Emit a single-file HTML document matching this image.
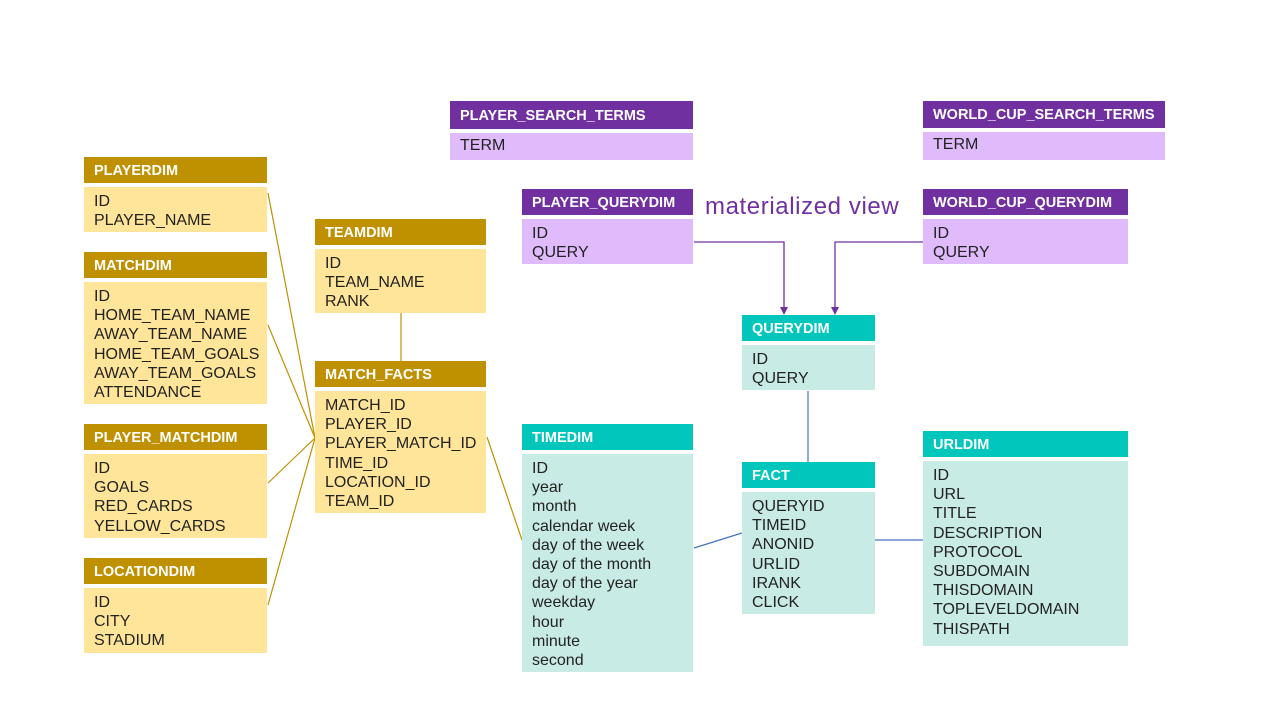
<!DOCTYPE html>
<html><head><meta charset="utf-8"><style>
body{margin:0;width:1280px;height:720px;background:#fff;position:relative;overflow:hidden;font-family:"Liberation Sans",sans-serif}
.h,.b{position:absolute;box-sizing:border-box;padding-left:10px}
.h{color:#fff;font-weight:bold;font-size:14.5px;line-height:28px}
.b{color:#222;font-size:16px;line-height:19.2px;padding-top:5px}
.g.h{background:#bf9000}.g.b{background:#ffe599}
.p.h{background:#7030a0}.p.b{background:#e0bbfb}
.t.h{background:#00c6bb}.t.b{background:#c9ebe5}
svg{position:absolute;left:0;top:0}
</style></head><body>
<svg width="1280" height="720">
<g stroke="#bf9000" stroke-width="1.2" fill="none">
<line x1="268" y1="193" x2="315" y2="438"/>
<line x1="268" y1="325" x2="315" y2="438"/>
<line x1="268" y1="483" x2="315" y2="438"/>
<line x1="268" y1="605" x2="315" y2="438"/>
<line x1="487" y1="437" x2="522" y2="540"/>
<line x1="401" y1="313" x2="401" y2="361"/>
</g>
<g stroke="#4472c4" stroke-width="1.2">
<line x1="694" y1="548" x2="742" y2="533"/>
<line x1="875" y1="540" x2="923" y2="540"/>
<line x1="808" y1="391" x2="808" y2="462"/>
</g>
<g stroke="#7030a0" stroke-width="1.3" fill="none">
<polyline points="694,242 784,242 784,308"/>
<polyline points="923,242 835,242 835,308"/>
</g>
<g fill="#7030a0"><polygon points="780,307 788,307 784,315"/><polygon points="831,307 839,307 835,315"/></g>
</svg>
<div class="h g" style="left:84px;top:157px;width:183px;height:26px">PLAYERDIM</div>
<div class="b g" style="left:84px;top:187px;width:183px;height:45px">ID<br>PLAYER_NAME</div>
<div class="h g" style="left:84px;top:252px;width:183px;height:26px">MATCHDIM</div>
<div class="b g" style="left:84px;top:282px;width:183px;height:122px">ID<br>HOME_TEAM_NAME<br>AWAY_TEAM_NAME<br>HOME_TEAM_GOALS<br>AWAY_TEAM_GOALS<br>ATTENDANCE</div>
<div class="h g" style="left:84px;top:424px;width:183px;height:26px">PLAYER_MATCHDIM</div>
<div class="b g" style="left:84px;top:454px;width:183px;height:84px">ID<br>GOALS<br>RED_CARDS<br>YELLOW_CARDS</div>
<div class="h g" style="left:84px;top:558px;width:183px;height:26px">LOCATIONDIM</div>
<div class="b g" style="left:84px;top:588px;width:183px;height:65px">ID<br>CITY<br>STADIUM</div>
<div class="h g" style="left:315px;top:219px;width:171px;height:26px">TEAMDIM</div>
<div class="b g" style="left:315px;top:249px;width:171px;height:64px">ID<br>TEAM_NAME<br>RANK</div>
<div class="h g" style="left:315px;top:361px;width:171px;height:26px">MATCH_FACTS</div>
<div class="b g" style="left:315px;top:391px;width:171px;height:122px">MATCH_ID<br>PLAYER_ID<br>PLAYER_MATCH_ID<br>TIME_ID<br>LOCATION_ID<br>TEAM_ID</div>
<div class="h p" style="left:450px;top:101px;width:243px;height:28px;line-height:30px">PLAYER_SEARCH_TERMS</div>
<div class="b p" style="left:450px;top:133px;width:243px;height:27px;padding-top:3px">TERM</div>
<div class="h p" style="left:923px;top:101px;width:242px;height:27px;line-height:29px">WORLD_CUP_SEARCH_TERMS</div>
<div class="b p" style="left:923px;top:132px;width:242px;height:28px;padding-top:3px">TERM</div>
<div class="h p" style="left:522px;top:189px;width:171px;height:26px">PLAYER_QUERYDIM</div>
<div class="b p" style="left:522px;top:219px;width:171px;height:45px">ID<br>QUERY</div>
<div class="h p" style="left:923px;top:189px;width:205px;height:26px">WORLD_CUP_QUERYDIM</div>
<div class="b p" style="left:923px;top:219px;width:205px;height:45px">ID<br>QUERY</div>
<div style="position:absolute;left:705px;top:193px;font-size:24px;letter-spacing:0.6px;color:#7030a0">materialized view</div>
<div class="h t" style="left:742px;top:315px;width:133px;height:26px">QUERYDIM</div>
<div class="b t" style="left:742px;top:345px;width:133px;height:45px">ID<br>QUERY</div>
<div class="h t" style="left:522px;top:424px;width:171px;height:26px">TIMEDIM</div>
<div class="b t" style="left:522px;top:454px;width:171px;height:218px">ID<br>year<br>month<br>calendar week<br>day of the week<br>day of the month<br>day of the year<br>weekday<br>hour<br>minute<br>second</div>
<div class="h t" style="left:742px;top:462px;width:133px;height:26px">FACT</div>
<div class="b t" style="left:742px;top:492px;width:133px;height:122px">QUERYID<br>TIMEID<br>ANONID<br>URLID<br>IRANK<br>CLICK</div>
<div class="h t" style="left:923px;top:431px;width:205px;height:26px">URLDIM</div>
<div class="b t" style="left:923px;top:461px;width:205px;height:185px">ID<br>URL<br>TITLE<br>DESCRIPTION<br>PROTOCOL<br>SUBDOMAIN<br>THISDOMAIN<br>TOPLEVELDOMAIN<br>THISPATH</div>
</body></html>
